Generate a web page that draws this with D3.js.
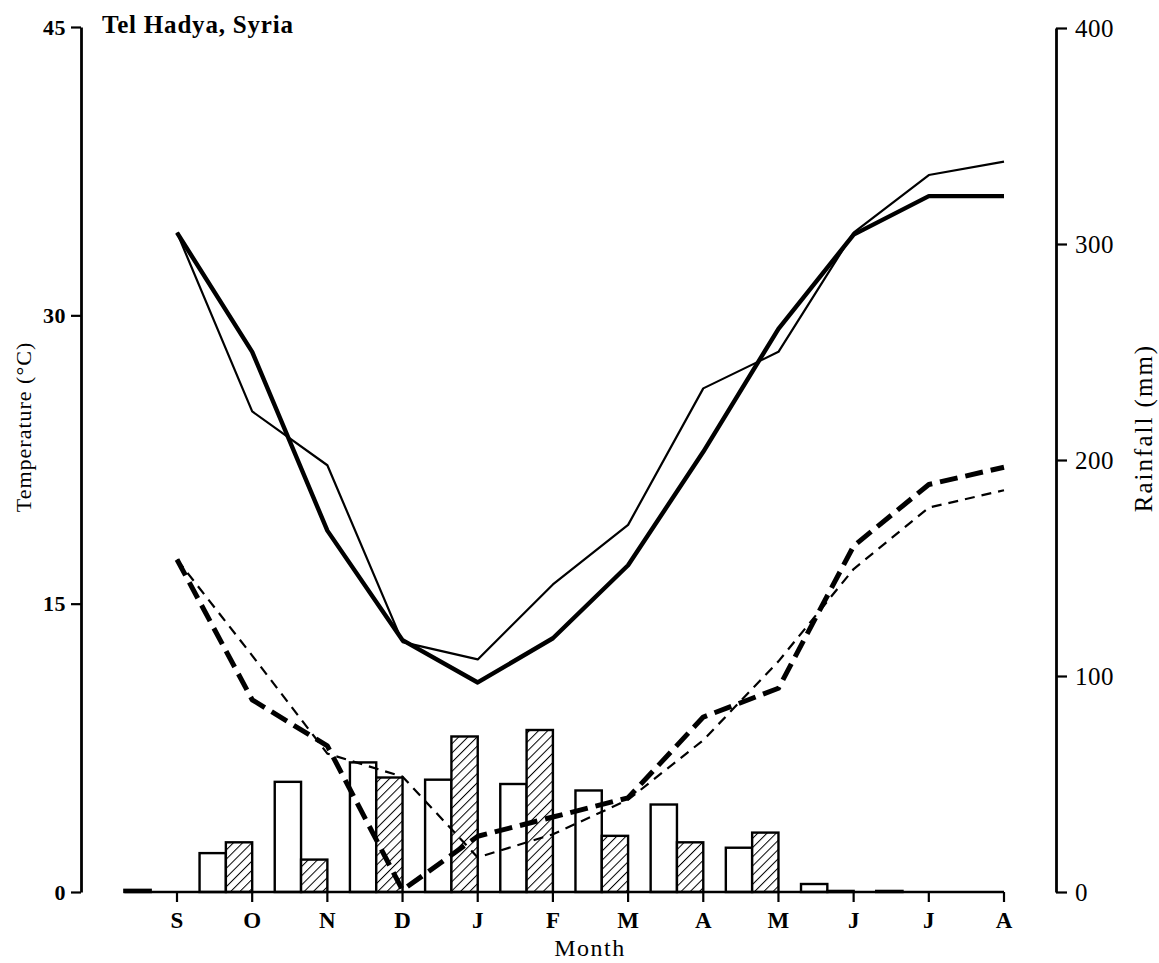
<!DOCTYPE html>
<html>
<head>
<meta charset="utf-8">
<script src="https://cdn.jsdelivr.net/npm/d3@7"></script>
<style>
  html, body { margin: 0; padding: 0; background: #fff; }
  svg { display: block; font-family: "Liberation Serif", "Times New Roman", serif; }
</style>
</head>
<body>
<svg id="chart" width="1159" height="963"></svg>
<script>
// Month labels along the x axis (September to August)
const months = ["S", "O", "N", "D", "J", "F", "M", "A", "M", "J", "J", "A"];

// Monthly rainfall (mm), two seasons
const rainSeason1 = [1, 18, 51, 60, 52, 50, 47, 40.5, 20.5, 3.7, 0.5, 0];
const rainSeason2 = [0, 23, 15, 53, 72, 75, 26, 23, 27.5, 0.5, 0, 0];

// Mean maximum temperature (°C)
const tmaxSeason1 = [34.3, 28.1, 18.8, 13.1, 10.9, 13.2, 17.0, 22.9, 29.3, 34.2, 36.2, 36.2];
const tmaxSeason2 = [34.3, 25.0, 22.2, 13.0, 12.1, 16.0, 19.1, 26.2, 28.1, 34.3, 37.3, 38.0];

// Mean minimum temperature (°C)
const tminSeason1 = [17.3, 10.0, 7.6, 0.1, 2.9, 3.9, 4.9, 9.1, 10.6, 18.0, 21.2, 22.1];
const tminSeason2 = [17.3, 12.3, 7.2, 6.0, 1.8, 3.0, 4.8, 7.9, 12.0, 16.8, 20.0, 20.9];

// Axis tick values
const tempTicks = [0, 15, 30, 45];
const rainTicks = [0, 100, 200, 300, 400];

const svg = d3.select("#chart");

const x = d3.scaleLinear().domain([0, months.length - 1]).range([177, 1004]);
const step = x(1) - x(0);
const yT = d3.scaleLinear().domain([0, 45]).range([892, 27]);
const yR = d3.scaleLinear().domain([0, 400]).range([892, 28]);

// Diagonal hatch for the second-season bars
const defs = svg.append("defs");
const pat = defs.append("pattern")
  .attr("id", "hatch")
  .attr("patternUnits", "userSpaceOnUse")
  .attr("width", 6.5).attr("height", 6.5)
  .attr("patternTransform", "rotate(45)");
pat.append("rect").attr("width", 6.5).attr("height", 6.5).attr("fill", "#fff");
pat.append("line")
  .attr("x1", 0).attr("y1", 0).attr("x2", 0).attr("y2", 6.5)
  .attr("stroke", "#000").attr("stroke-width", 2);

// Rainfall bars: each month's pair sits just left of its tick
const barW = step * 0.35;
const bars = svg.append("g");
bars.selectAll("rect.s1")
  .data(rainSeason1)
  .join("rect")
  .attr("class", "s1")
  .attr("x", (d, i) => x(i) - 2 * barW)
  .attr("y", d => yR(d))
  .attr("width", barW)
  .attr("height", d => yR(0) - yR(d))
  .attr("fill", "#fff")
  .attr("stroke", d => d > 0 ? "#000" : "none")
  .attr("stroke-width", 2.4);
bars.selectAll("rect.s2")
  .data(rainSeason2)
  .join("rect")
  .attr("class", "s2")
  .attr("x", (d, i) => x(i) - barW)
  .attr("y", d => yR(d))
  .attr("width", barW)
  .attr("height", d => yR(0) - yR(d))
  .attr("fill", "url(#hatch)")
  .attr("stroke", d => d > 0 ? "#000" : "none")
  .attr("stroke-width", 2.4);

// Temperature lines
const line = d3.line().x((d, i) => x(i)).y(d => yT(d));

const lines = svg.append("g").attr("fill", "none").attr("stroke", "#000")
  .attr("stroke-linejoin", "round");
lines.append("path").attr("d", line(tmaxSeason2))
  .attr("stroke-width", 2.2);
lines.append("path").attr("d", line(tmaxSeason1))
  .attr("stroke-width", 4.4);
lines.append("path").attr("d", line(tminSeason2))
  .attr("stroke-width", 2.2).attr("stroke-dasharray", "10 7");
lines.append("path").attr("d", line(tminSeason1))
  .attr("stroke-width", 5).attr("stroke-dasharray", "18 8");

// Baseline (x axis) with month ticks
const gx = svg.append("g").attr("transform", `translate(0,${yT(0)})`);
gx.append("line")
  .attr("x1", x(0) - 2 * barW).attr("x2", x(months.length - 1))
  .attr("stroke", "#000").attr("stroke-width", 2.6);
gx.selectAll("line.tick")
  .data(months)
  .join("line")
  .attr("class", "tick")
  .attr("x1", (d, i) => x(i)).attr("x2", (d, i) => x(i))
  .attr("y1", 0).attr("y2", 10)
  .attr("stroke", "#000").attr("stroke-width", 2.2);
gx.selectAll("text")
  .data(months)
  .join("text")
  .attr("x", (d, i) => x(i))
  .attr("y", 36)
  .attr("text-anchor", "middle")
  .attr("font-size", 23)
  .attr("font-weight", "bold")
  .text(d => d);

svg.append("text")
  .attr("x", 590).attr("y", 956)
  .attr("text-anchor", "middle")
  .attr("font-size", 24)
  .attr("letter-spacing", 1.5)
  .text("Month");

// Left temperature axis
const gl = svg.append("g").attr("transform", "translate(81,0)")
  .call(d3.axisLeft(yT).tickValues(tempTicks).tickSize(10).tickSizeOuter(0).tickPadding(5));
gl.select(".domain").attr("stroke-width", 2.8);
gl.selectAll(".tick line").attr("stroke-width", 2.2);
gl.selectAll(".tick text")
  .attr("font-family", "Liberation Serif, serif")
  .attr("font-size", 22)
  .attr("font-weight", "bold")
  .attr("letter-spacing", 0.5)
  .attr("fill", "#000");

svg.append("text")
  .attr("transform", "translate(31,427) rotate(-90)")
  .attr("text-anchor", "middle")
  .attr("font-size", 22)
  .attr("letter-spacing", 1)
  .text("Temperature (°C)");

// Right rainfall axis
const gr = svg.append("g").attr("transform", "translate(1056,0)")
  .call(d3.axisRight(yR).tickValues(rainTicks).tickSize(11).tickSizeOuter(0).tickPadding(8));
gr.select(".domain").attr("stroke-width", 2.8);
gr.selectAll(".tick line").attr("stroke-width", 2.2);
gr.selectAll(".tick text")
  .attr("font-family", "Liberation Serif, serif")
  .attr("font-size", 25)
  .attr("letter-spacing", 0.5)
  .attr("fill", "#000");

svg.append("text")
  .attr("transform", "translate(1152,428) rotate(-90)")
  .attr("text-anchor", "middle")
  .attr("font-size", 25)
  .attr("letter-spacing", 2)
  .text("Rainfall (mm)");

// Site title
svg.append("text")
  .attr("x", 102).attr("y", 33)
  .attr("font-size", 25)
  .attr("font-weight", "bold")
  .attr("letter-spacing", 0.8)
  .text("Tel Hadya, Syria");
</script>
</body>
</html>
